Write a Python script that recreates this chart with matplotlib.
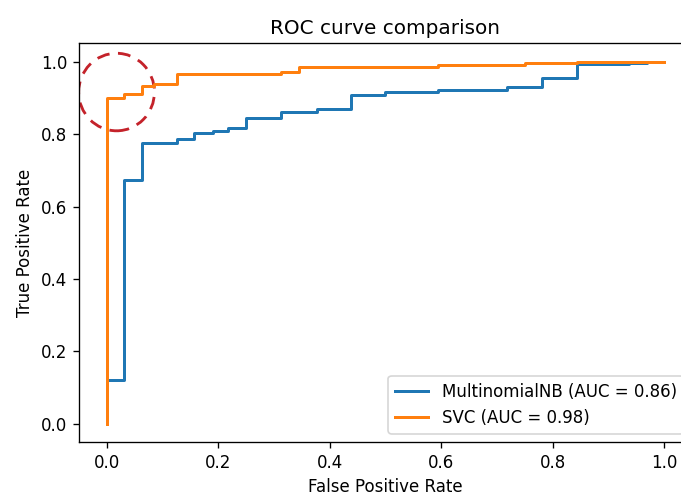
import numpy as np
import matplotlib
matplotlib.use("Agg")
import matplotlib.pyplot as plt
from matplotlib.patches import Ellipse

# ROC corner points
nb_fpr = [0.0, 0.0, 0.030, 0.030, 0.063, 0.063, 0.125, 0.125, 0.157, 0.157, 0.190, 0.190,
          0.218, 0.218, 0.250, 0.250, 0.313, 0.313, 0.378, 0.378, 0.439, 0.439, 0.500, 0.500,
          0.595, 0.595, 0.718, 0.718, 0.781, 0.781, 0.844, 0.844, 0.937, 0.937, 0.969, 0.969, 1.0]
nb_tpr = [0.0, 0.121, 0.121, 0.672, 0.672, 0.774, 0.774, 0.787, 0.787, 0.802, 0.802, 0.808,
          0.808, 0.817, 0.817, 0.845, 0.845, 0.862, 0.862, 0.868, 0.868, 0.909, 0.909, 0.917,
          0.917, 0.921, 0.921, 0.931, 0.931, 0.954, 0.954, 0.994, 0.994, 0.997, 0.997, 1.0, 1.0]
svc_fpr = [0.0, 0.0, 0.030, 0.030, 0.063, 0.063, 0.084, 0.084, 0.125, 0.125, 0.313, 0.313,
           0.344, 0.344, 0.595, 0.595, 0.750, 0.750, 0.844, 0.844, 1.0]
svc_tpr = [0.0, 0.900, 0.900, 0.910, 0.910, 0.933, 0.933, 0.939, 0.939, 0.965, 0.965, 0.971,
           0.971, 0.986, 0.986, 0.992, 0.992, 0.997, 0.997, 1.0, 1.0]
labels = ["MultinomialNB (AUC = 0.86)", "SVC (AUC = 0.98)"]

# highlight circle (data coords): centre, half-width, half-height
circ_xy = (0.0174, 0.916)
circ_rx, circ_ry = 0.068, 0.107

fig = plt.figure(figsize=(681 / 120, 500 / 120), dpi=120)
ax = fig.add_axes([0.116, 0.116, 0.900, 0.797])

ax.plot(nb_fpr, nb_tpr, color="#1f77b4", lw=1.8, label=labels[0])
ax.plot(svc_fpr, svc_tpr, color="#ff7f0e", lw=1.8, label=labels[1])
ax.add_patch(Ellipse(circ_xy, 2 * circ_rx, 2 * circ_ry, fill=False,
                     ec="#c4222a", ls=(0, (4.5, 3)), lw=1.7))

ax.set_xlim(-0.05, 1.05)
ax.set_ylim(-0.05, 1.05)
ax.set_xlabel("False Positive Rate")
ax.set_ylabel("True Positive Rate")
ax.set_title("ROC curve comparison")
ax.legend(loc="lower right")

fig.savefig("out.png", dpi=120)
